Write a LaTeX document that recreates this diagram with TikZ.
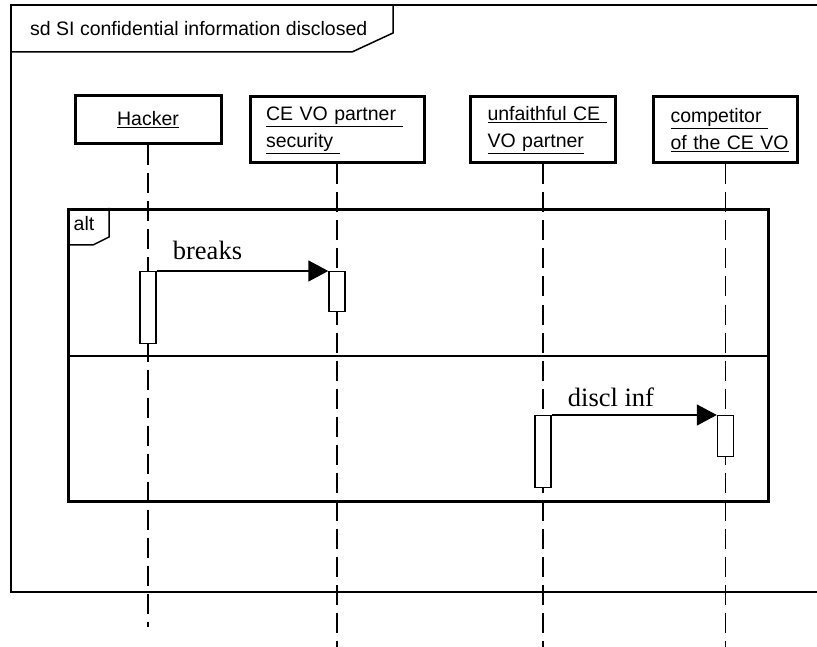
\documentclass[tikz,border=0pt]{standalone}
\usepackage{fontspec}
\setmainfont{Liberation Serif}
\setsansfont{Liberation Sans}
\usetikzlibrary{arrows.meta}

\begin{document}
\begin{tikzpicture}[x=1pt,y=-1pt,
  frame/.style={line width=2.8pt},
  tabline/.style={line width=1.5pt},
  head/.style={draw, line width=3pt, fill=white, inner sep=0pt,
    font=\sffamily\fontsize{19.5}{27}\selectfont},
  lifeline/.style={line width=1.2pt, dash pattern=on 20pt off 8pt},
  act/.style={draw, line width=1.4pt, fill=white, inner sep=0pt,
    minimum width=16pt, anchor=north},
  msg/.style={line width=1.5pt, -{Triangle[length=20pt,width=21pt]}},
  msglabel/.style={font=\fontsize{26.5}{30}\selectfont, anchor=base west, inner sep=0pt},
  sans/.style={font=\sffamily\fontsize{19.5}{24}\selectfont, inner sep=0pt}
]
\clip (0,0) rectangle (817,647);
\fill[white] (0,0) rectangle (817,647);

% interaction frame with its name tab
\draw[frame] (840,5) -- (11,5) -- (11,592) -- (840,592);
\draw[tabline] (11,52) -- (352,52) -- (393,33) -- (393,5);
\node[sans, anchor=west] (title) at (30,29) {sd SI confidential information disclosed};

% lifeline heads
\node[head, minimum width=146pt, minimum height=48pt, align=center] (hk) at (148,120)
  {\underline{Hacker}};
\node[head, minimum width=174pt, minimum height=66pt, text width=142pt, align=left] (sec) at (337,130)
  {\underline{CE VO partner\ }\\\underline{security\ }};
\node[head, minimum width=145pt, minimum height=66pt, text width=111pt, align=left] (unf) at (543,130)
  {\underline{unfaithful CE\ }\\\underline{VO partner}};
\node[head, minimum width=144pt, minimum height=66pt, text width=110pt, align=left] (comp) at (725.5,130)
  {\underline{competitor\ }\\\underline{of the CE VO}};

% lifelines
\coordinate (hkend) at (148,627);
\coordinate (secend) at (337,650);
\coordinate (unfend) at (543,650);
\coordinate (compend) at (725.5,650);
\draw[lifeline] (hk.south) -- (hkend);
\draw[lifeline] (sec.south) -- (secend);
\draw[lifeline] (unf.south) -- (unfend);
\draw[lifeline] (comp.south) -- (compend);

% alt combined fragment
\node[draw, frame, inner sep=0pt, minimum width=700pt, minimum height=292pt, anchor=north west] (alt) at (67,208) {};
\draw[tabline] (67,245) -- (93,245) -- (109,237) -- (109,208);
\node[sans] (altlbl) at (84,224) {alt};
\draw[line width=1.2pt] (67,356) -- (767,356);

% activation bars
\node[act, minimum height=72pt] (hka) at (hk.center |- 0,271) {};
\node[act, minimum height=40pt] (seca) at (sec.center |- 0,271) {};
\node[act, minimum height=72pt] (unfa) at (unf.center |- 0,415) {};
\node[act, minimum height=41pt] (compa) at (comp.center |- 0,415) {};

% messages
\draw[msg] (hka.north east) -- (seca.north west);
\node[msglabel] (brk) at ([shift={(16pt,11pt)}]hka.north east) {breaks};
\draw[msg] (unfa.north east) -- (compa.north west);
\node[msglabel] (dis) at ([shift={(16pt,9pt)}]unfa.north east) {discl inf};
\end{tikzpicture}
\end{document}
